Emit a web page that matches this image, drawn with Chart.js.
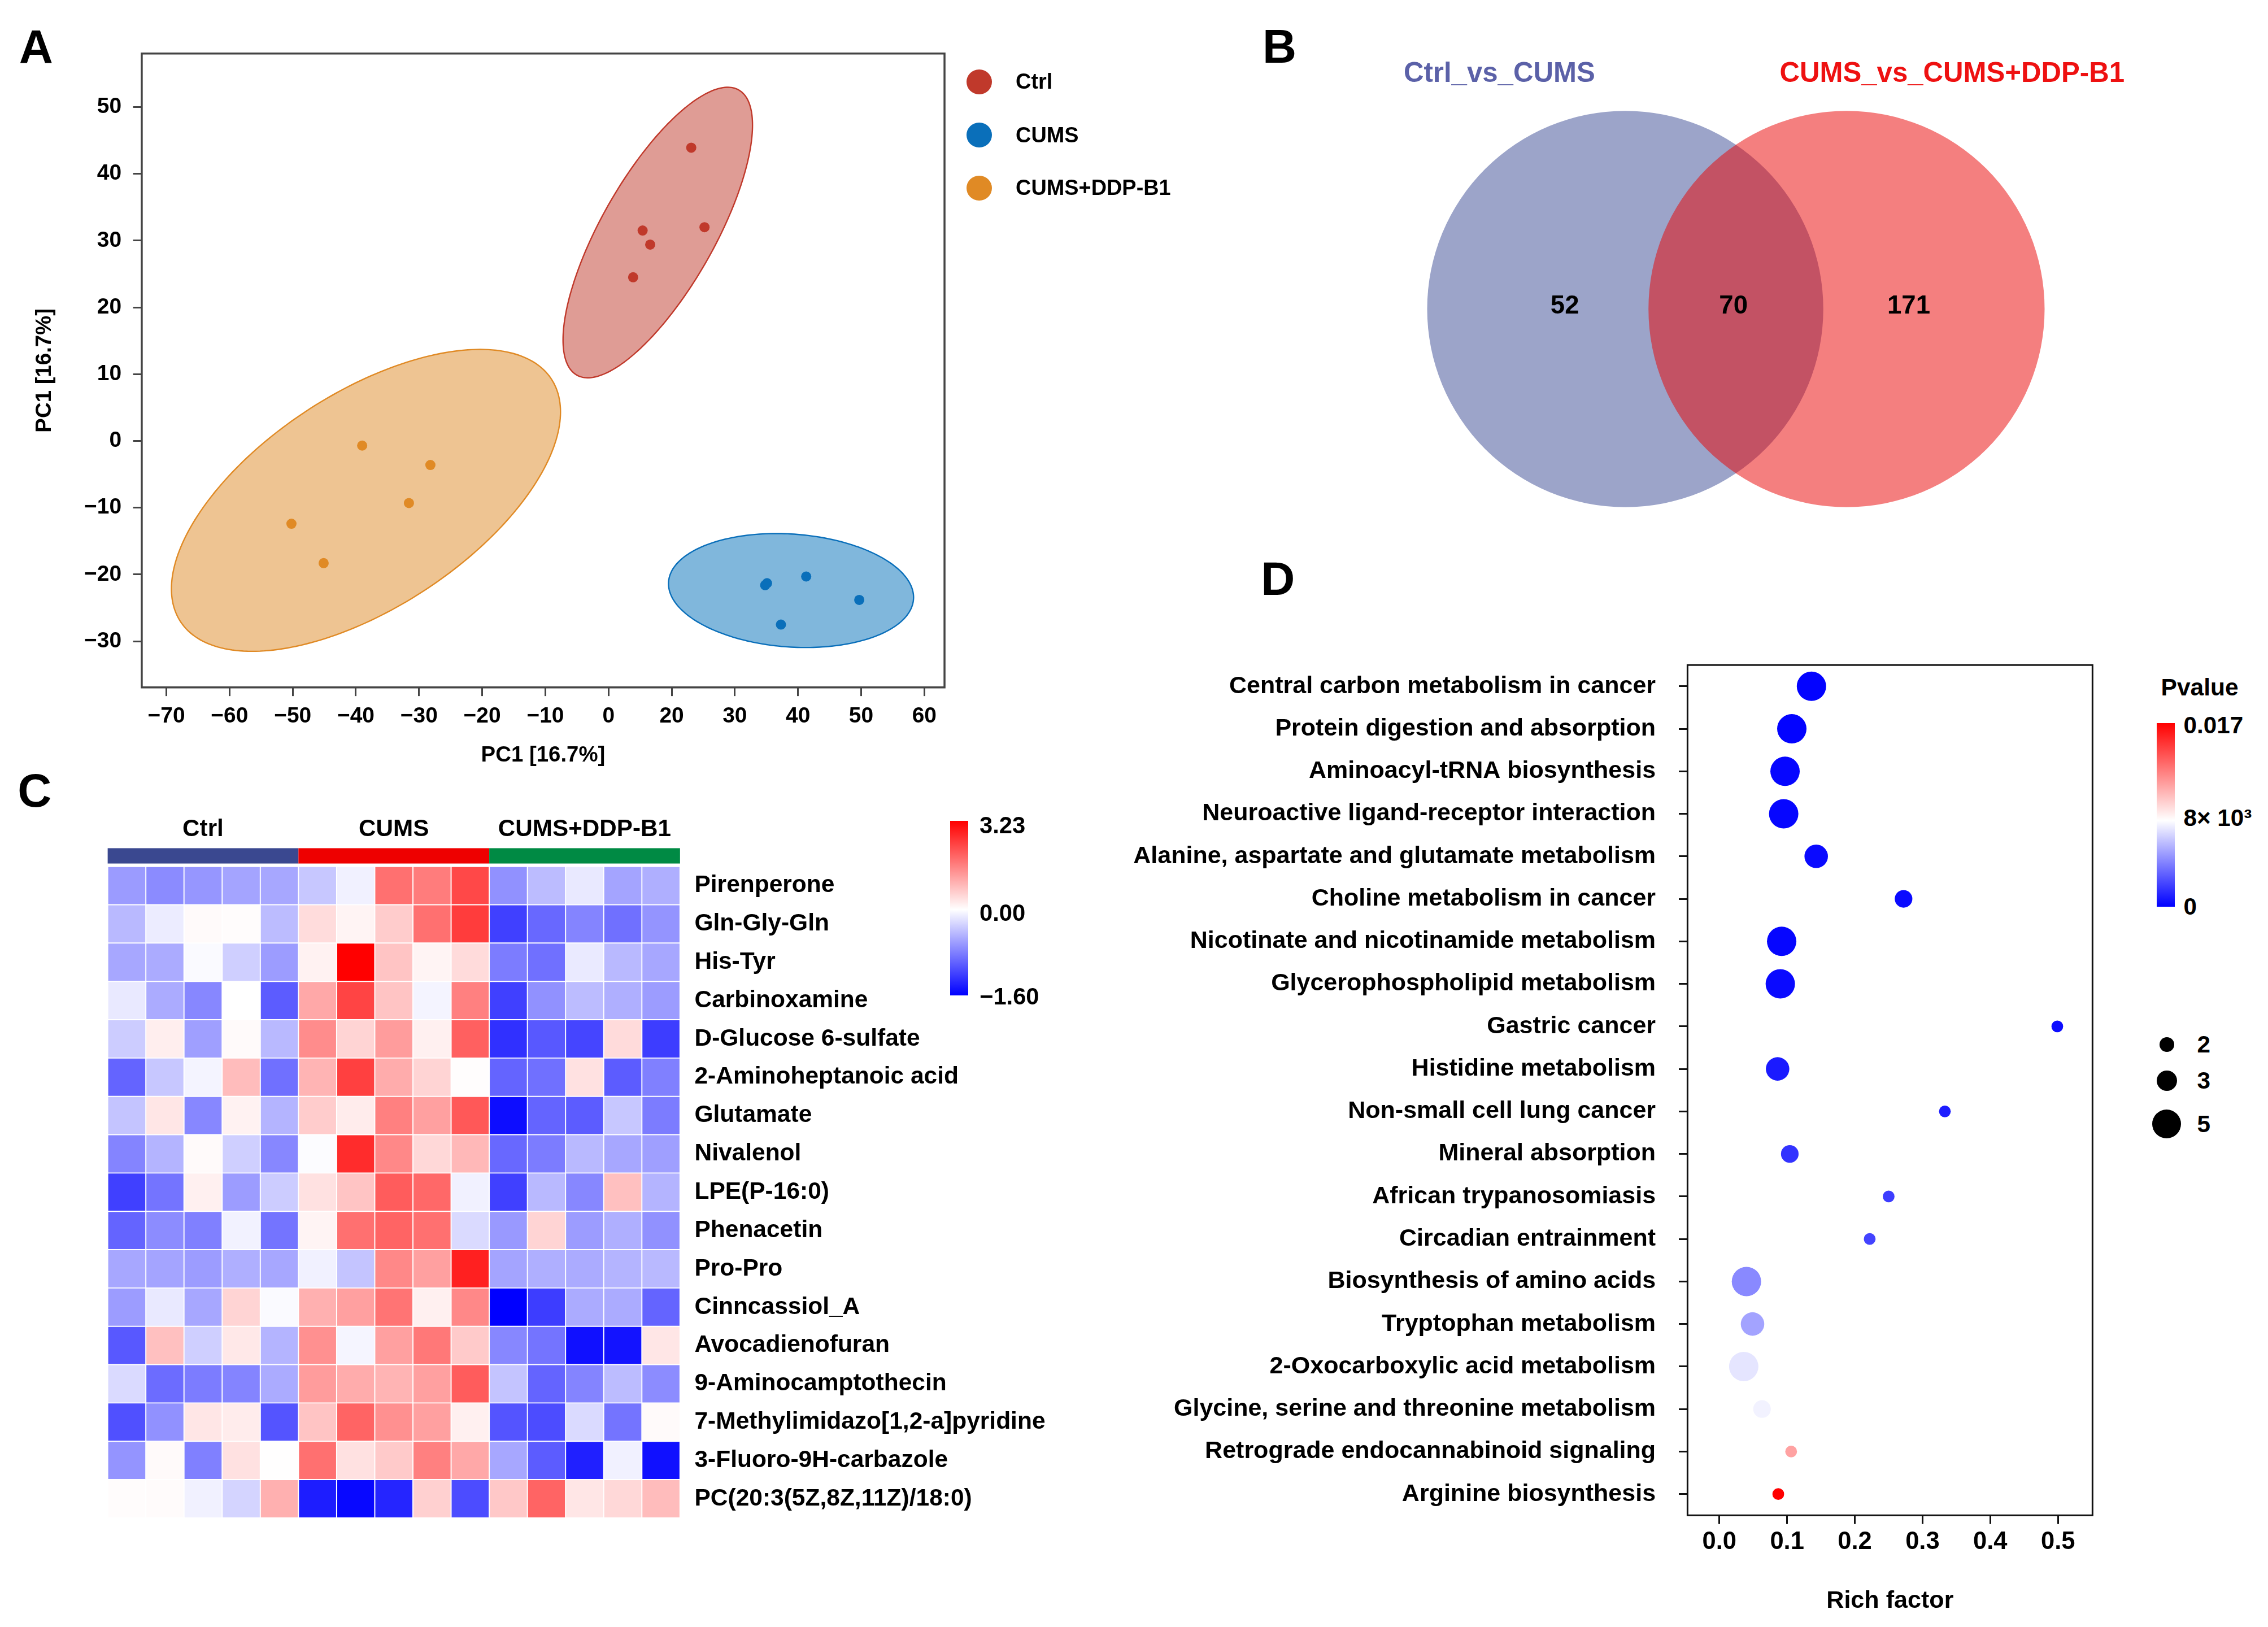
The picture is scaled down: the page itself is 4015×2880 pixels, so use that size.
<!DOCTYPE html>
<html>
<head>
<meta charset="utf-8">
<script src="https://cdn.jsdelivr.net/npm/chart.js@4.4.1/dist/chart.umd.min.js"></script>
<style>
  html, body { margin: 0; padding: 0; background: #fff; }
  #page { position: relative; width: 4015px; height: 2880px; overflow: hidden; background: #fff;
          font-family: "Liberation Sans", Arial, sans-serif; font-weight: bold; color: #000; }
  .txt { position: absolute; white-space: nowrap; line-height: 1; }
  .dot { position: absolute; border-radius: 50%; }
</style>
</head>
<body>
<div id="page"></div>
<script>
//-----------------------------------------------------------------------------
// Data
//-----------------------------------------------------------------------------

// A: PCA scores
var pcaGroups = ['Ctrl', 'CUMS', 'CUMS+DDP-B1'];
var ctrlX = [13.1, 5.4, 6.6, 15.2, 3.9];
var ctrlY = [43.9, 31.5, 29.4, 32.0, 24.5];
var cumsX = [24.8, 25.1, 31.3, 39.7, 27.3];
var cumsY = [-21.6, -21.3, -20.3, -23.8, -27.5];
var ddpX = [-39.0, -28.2, -31.6, -50.2, -45.1];
var ddpY = [-0.7, -3.6, -9.3, -12.4, -18.3];
// confidence ellipses: centre, half extents along x / y, correlation
var ellCX = [7.8, 28.9, -38.4];
var ellCY = [31.2, -22.4, -8.9];
var ellHX = [15.0, 19.4, 30.8];
var ellHY = [21.75, 8.53, 22.6];
var ellRho = [0.739, -0.12, 0.586];
// the x tick labels as printed on the figure (10 is skipped)
var pcaXTickLabels = ['\u221270', '\u221260', '\u221250', '\u221240', '\u221230', '\u221220', '\u221210', '0', '20', '30', '40', '50', '60'];

// B: Venn
var vennSets = ['Ctrl_vs_CUMS', 'CUMS_vs_CUMS+DDP-B1'];
var vennCounts = [52, 70, 171]; // only A, both, only B

// C: heatmap
var heatGroups = ['Ctrl', 'CUMS', 'CUMS+DDP-B1'];
var metabolites = ['Pirenperone', 'Gln-Gly-Gln', 'His-Tyr', 'Carbinoxamine', 'D-Glucose 6-sulfate',
  '2-Aminoheptanoic acid', 'Glutamate', 'Nivalenol', 'LPE(P-16:0)', 'Phenacetin', 'Pro-Pro',
  'Cinncassiol_A', 'Avocadienofuran', '9-Aminocamptothecin', '7-Methylimidazo[1,2-a]pyridine',
  '3-Fluoro-9H-carbazole', 'PC(20:3(5Z,8Z,11Z)/18:0)'];
var heatValues = [
  [-0.63, -0.73, -0.66, -0.57, -0.55, -0.35, -0.09, 1.81, 1.66, 2.32, -0.69, -0.42, -0.14, -0.57, -0.50],
  [-0.44, -0.12, 0.06, 0.04, -0.42, 0.44, 0.14, 0.65, 1.81, 2.47, -1.20, -0.95, -0.77, -0.90, -0.67],
  [-0.55, -0.53, -0.03, -0.30, -0.62, 0.16, 3.23, 0.75, 0.14, 0.46, -0.82, -0.90, -0.13, -0.44, -0.55],
  [-0.14, -0.53, -0.75, 0.00, -1.02, 1.10, 2.37, 0.75, -0.07, 1.61, -1.20, -0.69, -0.42, -0.50, -0.62],
  [-0.32, 0.22, -0.60, 0.06, -0.44, 1.46, 0.54, 1.25, 0.19, 2.01, -1.30, -1.05, -1.17, 0.46, -1.22],
  [-0.97, -0.35, -0.07, 0.85, -0.90, 0.95, 2.42, 1.05, 0.54, 0.02, -0.97, -0.90, 0.38, -1.02, -0.80],
  [-0.37, 0.32, -0.75, 0.16, -0.47, 0.65, 0.24, 1.61, 1.20, 2.11, -1.52, -0.97, -1.02, -0.35, -0.82],
  [-0.77, -0.47, 0.06, -0.30, -0.75, -0.02, 2.67, 1.51, 0.49, 0.90, -0.95, -0.82, -0.44, -0.55, -0.60],
  [-1.20, -0.87, 0.19, -0.62, -0.32, 0.38, 0.75, 2.06, 1.91, -0.09, -1.20, -0.44, -0.75, 0.80, -0.47],
  [-0.97, -0.72, -0.80, -0.08, -0.87, 0.14, 1.81, 1.96, 1.81, -0.23, -0.64, 0.54, -0.62, -0.50, -0.69],
  [-0.55, -0.57, -0.62, -0.50, -0.55, -0.09, -0.37, 1.51, 1.20, 2.82, -0.57, -0.50, -0.53, -0.47, -0.44],
  [-0.62, -0.14, -0.55, 0.54, -0.03, 1.00, 1.20, 1.76, 0.19, 1.51, -1.60, -1.22, -0.53, -0.53, -0.97],
  [-1.05, 0.80, -0.30, 0.29, -0.47, 1.41, -0.06, 1.20, 1.71, 0.67, -0.75, -0.87, -1.50, -1.48, 0.32],
  [-0.23, -0.92, -0.82, -0.77, -0.53, 1.25, 1.05, 0.95, 1.20, 2.06, -0.37, -0.97, -0.77, -0.42, -0.72],
  [-1.10, -0.69, 0.32, 0.24, -1.07, 0.75, 1.96, 1.41, 1.20, 0.19, -1.07, -1.12, -0.23, -0.87, 0.06],
  [-0.67, 0.06, -0.80, 0.38, 0.01, 1.81, 0.38, 0.67, 1.61, 1.10, -0.55, -1.02, -1.40, -0.09, -1.50],
  [0.04, 0.05, -0.09, -0.27, 1.00, -1.42, -1.55, -1.37, 0.59, -1.12, 0.70, 1.96, 0.32, 0.49, 0.85]
];
var heatMin = -1.60, heatMax = 3.23;
var heatTickLabels = ['3.23', '0.00', '\u22121.60'];

// D: KEGG enrichment
var pathways = ['Central carbon metabolism in cancer', 'Protein digestion and absorption',
  'Aminoacyl-tRNA biosynthesis', 'Neuroactive ligand-receptor interaction',
  'Alanine, aspartate and glutamate metabolism', 'Choline metabolism in cancer',
  'Nicotinate and nicotinamide metabolism', 'Glycerophospholipid metabolism', 'Gastric cancer',
  'Histidine metabolism', 'Non-small cell lung cancer', 'Mineral absorption',
  'African trypanosomiasis', 'Circadian entrainment', 'Biosynthesis of amino acids',
  'Tryptophan metabolism', '2-Oxocarboxylic acid metabolism', 'Glycine, serine and threonine metabolism',
  'Retrograde endocannabinoid signaling', 'Arginine biosynthesis'];
var richFactor = [0.136, 0.107, 0.097, 0.095, 0.143, 0.272, 0.092, 0.090, 0.499, 0.086,
  0.333, 0.104, 0.250, 0.222, 0.040, 0.049, 0.036, 0.063, 0.106, 0.087];
var hitCount = [5, 5, 5, 5, 4, 3, 5, 5, 2, 4, 2, 3, 2, 2, 5, 4, 5, 3, 2, 2];
var pValue = [0.0001, 0.0001, 0.0002, 0.0002, 0.0003, 0.0003, 0.0002, 0.0003, 0.0004, 0.0008,
  0.0009, 0.0016, 0.0019, 0.0021, 0.0043, 0.0051, 0.0072, 0.0076, 0.0113, 0.0170];
var pMid = 0.008, pMax = 0.017;
var pTickLabels = ['0.017', '8\u00d7 10\u00b3', '0'];
var sizeLegend = [2, 3, 5];

//-----------------------------------------------------------------------------
// Layout helpers (positions are given in units of the 1568 px wide figure)
//-----------------------------------------------------------------------------

var S = 4015 / 1568;
var px = function(v) { return v * S; };
var page = document.getElementById('page');
var FONT = '"Liberation Sans", Arial, sans-serif';

Chart.defaults.font.family = FONT;
Chart.defaults.font.weight = 'bold';
Chart.defaults.color = '#000';
Chart.defaults.animation = false;

function addCanvas(x, y, w, h) {
  var c = document.createElement('canvas');
  c.width = Math.round(px(w));
  c.height = Math.round(px(h));
  c.style.cssText = 'position:absolute;left:' + px(x) + 'px;top:' + px(y) + 'px;';
  page.appendChild(c);
  return c;
}

// yc is the vertical centre of the capitals
function addText(str, x, yc, size, align, color) {
  var d = document.createElement('div');
  d.className = 'txt';
  d.textContent = str;
  d.style.fontSize = px(size) + 'px';
  d.style.left = px(x) + 'px';
  d.style.top = (px(yc) - 0.4885 * px(size)) + 'px';
  if (color) d.style.color = color;
  if (align === 'center') d.style.transform = 'translateX(-50%)';
  if (align === 'right') d.style.transform = 'translateX(-100%)';
  page.appendChild(d);
  return d;
}

function addDot(cx, cy, r, color) {
  var d = document.createElement('div');
  d.className = 'dot';
  d.style.cssText = 'left:' + px(cx - r) + 'px;top:' + px(cy - r) + 'px;width:' + px(2 * r) +
    'px;height:' + px(2 * r) + 'px;background:' + color + ';';
  page.appendChild(d);
}

function addColorbar(x, y, w, h, gradient) {
  var d = document.createElement('div');
  d.style.cssText = 'position:absolute;left:' + px(x) + 'px;top:' + px(y) + 'px;width:' + px(w) +
    'px;height:' + px(h) + 'px;background:linear-gradient(to bottom,' + gradient + ');';
  page.appendChild(d);
}

function minus(v) { return v < 0 ? '\u2212' + (-v) : String(v); }

function heatColor(v) {
  var t;
  if (v >= 0) {
    t = 1 - Math.min(v / heatMax, 1);
    return 'rgb(255,' + Math.round(255 * t) + ',' + Math.round(255 * t) + ')';
  }
  t = 1 - Math.min(v / heatMin, 1);
  return 'rgb(' + Math.round(255 * t) + ',' + Math.round(255 * t) + ',255)';
}

function pColor(p) {
  var t;
  if (p <= pMid) {
    t = p / pMid;
    return 'rgb(' + Math.round(255 * t) + ',' + Math.round(255 * t) + ',255)';
  }
  t = 1 - Math.min((p - pMid) / (pMax - pMid), 1);
  return 'rgb(255,' + Math.round(255 * t) + ',' + Math.round(255 * t) + ')';
}

// frame around the plotting area
var framePlugin = {
  id: 'frame',
  afterDraw: function(chart, args, opts) {
    var a = chart.chartArea, ctx = chart.ctx;
    ctx.save();
    ctx.strokeStyle = opts.color || '#333';
    ctx.lineWidth = opts.width || 3;
    ctx.strokeRect(a.left, a.top, a.right - a.left, a.bottom - a.top);
    ctx.restore();
  }
};

//-----------------------------------------------------------------------------
// Panel letters
//-----------------------------------------------------------------------------

addText('A', 13.2, 32.2, 32.5);
addText('B', 872.8, 31.8, 32.5);
addText('C', 12.2, 546.3, 32.5);
addText('D', 871.8, 399.8, 32.5);

//-----------------------------------------------------------------------------
// A: PCA score plot
//-----------------------------------------------------------------------------

var pcaColors = ['#c0392b', '#0a6fba', '#e08a25'];
var pcaFills = ['rgba(192,57,43,0.5)', 'rgba(2,112,186,0.5)', 'rgba(222,138,37,0.5)'];
var pcaXs = [ctrlX, cumsX, ddpX], pcaYs = [ctrlY, cumsY, ddpY];

var ellipsePlugin = {
  id: 'ellipses',
  beforeDatasetsDraw: function(chart) {
    var ctx = chart.ctx, xs = chart.scales.x, ys = chart.scales.y;
    ctx.save();
    for (var i = 0; i < pcaGroups.length; i++) {
      var q = Math.sqrt(1 - ellRho[i] * ellRho[i]);
      ctx.beginPath();
      for (var k = 0; k <= 240; k++) {
        var t = k / 240 * Math.PI * 2;
        var dx = ellHX[i] * Math.cos(t);
        var dy = ellHY[i] * (ellRho[i] * Math.cos(t) + q * Math.sin(t));
        var X = xs.getPixelForValue(ellCX[i] + dx), Y = ys.getPixelForValue(ellCY[i] + dy);
        if (k) ctx.lineTo(X, Y); else ctx.moveTo(X, Y);
      }
      ctx.closePath();
      ctx.fillStyle = pcaFills[i];
      ctx.fill();
      ctx.strokeStyle = pcaColors[i];
      ctx.lineWidth = 2.4;
      ctx.stroke();
    }
    ctx.restore();
  }
};

new Chart(addCanvas(0, 0, 685, 545), {
  type: 'scatter',
  data: {
    datasets: pcaGroups.map(function(g, i) {
      return {
        label: g,
        data: pcaXs[i].map(function(x, j) { return {x: x, y: pcaYs[i][j]}; }),
        backgroundColor: pcaColors[i],
        borderWidth: 0,
        pointRadius: 9
      };
    })
  },
  options: {
    responsive: false,
    devicePixelRatio: 1,
    layout: {padding: {left: 0, top: px(37), right: px(32), bottom: 0}},
    plugins: {legend: {display: false}, tooltip: {enabled: false}, frame: {color: '#444', width: 3.5}},
    scales: {
      x: {
        min: -73.9, max: 53.2,
        afterFit: function(s) { s.height = px(70); },
        border: {display: false},
        grid: {drawOnChartArea: false, drawTicks: true, tickLength: px(6), color: '#444', lineWidth: 3},
        ticks: {
          stepSize: 10, includeBounds: false, padding: px(4.9), maxRotation: 0,
          font: {size: px(15.2), weight: 'bold'},
          callback: function(v) { return pcaXTickLabels[Math.round((v + 70) / 10)]; }
        },
        title: {display: true, text: 'PC1 [16.7%]', font: {size: px(15), weight: 'bold'}, padding: {top: 0, bottom: px(14)}}
      },
      y: {
        min: -36.9, max: 58.0,
        afterFit: function(s) { s.width = px(98); },
        border: {display: false},
        grid: {drawOnChartArea: false, drawTicks: true, tickLength: px(6), color: '#444', lineWidth: 3},
        ticks: {
          stepSize: 10, includeBounds: false, padding: px(8),
          font: {size: px(15.2), weight: 'bold'},
          callback: function(v) { return minus(v); }
        },
        title: {display: true, text: 'PC1 [16.7%]', font: {size: px(15), weight: 'bold'}, padding: {top: px(22), bottom: 0}}
      }
    }
  },
  plugins: [ellipsePlugin, framePlugin]
});

// legend of A
[56.6, 93.4, 130].forEach(function(y, i) {
  addDot(676.9, y, 8.7, pcaColors[i]);
  addText(pcaGroups[i], 702.2, y, 14.8);
});

//-----------------------------------------------------------------------------
// B: Venn diagram
//-----------------------------------------------------------------------------

var vennRadius = 0.895;      // in x units (centre distance = 1)
var vennLabelX = [-0.273, 0.489, 1.281];

var vennLabels = {
  id: 'vennLabels',
  afterDatasetsDraw: function(chart) {
    var ctx = chart.ctx, xs = chart.scales.x, ys = chart.scales.y;
    ctx.save();
    ctx.font = 'bold ' + px(17.8) + 'px ' + FONT;
    ctx.fillStyle = '#000';
    ctx.textAlign = 'center';
    ctx.textBaseline = 'middle';
    vennCounts.forEach(function(n, i) {
      ctx.fillText(String(n), xs.getPixelForValue(vennLabelX[i]), ys.getPixelForValue(0.011));
    });
    ctx.restore();
  }
};

function vennR(ctx) {
  var xs = ctx.chart.scales.x;
  return xs.getPixelForValue(vennRadius) - xs.getPixelForValue(0);
}

new Chart(addCanvas(940.2, 60, 520.2, 307), {
  type: 'scatter',
  data: {
    datasets: [
      // lower order is drawn last, so the translucent set lies over the opaque one
      {label: vennSets[0], data: [{x: 0, y: 0}], backgroundColor: '#9ca4c9', borderWidth: 0, pointRadius: vennR, order: 2},
      {label: vennSets[1], data: [{x: 1, y: 0}], backgroundColor: 'rgba(233,0,0,0.5)', borderWidth: 0, pointRadius: vennR, order: 1}
    ]
  },
  options: {
    responsive: false,
    devicePixelRatio: 1,
    layout: {padding: 0},
    plugins: {legend: {display: false}, tooltip: {enabled: false}},
    scales: {
      x: {display: false, min: -1.2, max: 2.2},
      y: {display: false, min: -1, max: 1}
    },
    elements: {point: {hoverRadius: vennR}}
  },
  plugins: [vennLabels]
});

addText(vennSets[0], 1036.6, 49.7, 19.2, 'center', '#5b61a8');
addText(vennSets[1], 1349.6, 49.7, 19.2, 'center', '#ee1111');

//-----------------------------------------------------------------------------
// C: heatmap
//-----------------------------------------------------------------------------

var groupColors = ['#3a4890', '#ee0000', '#008a44'];
var nSamples = heatValues[0].length;
var groupSize = nSamples / heatGroups.length;

var groupBar = {
  id: 'groupBar',
  afterDraw: function(chart) {
    var ctx = chart.ctx, xs = chart.scales.x, top = chart.chartArea.top;
    ctx.save();
    ctx.font = 'bold ' + px(16.5) + 'px ' + FONT;
    ctx.textAlign = 'center';
    ctx.textBaseline = 'alphabetic';
    heatGroups.forEach(function(g, i) {
      var x0 = xs.getPixelForValue(i * groupSize), x1 = xs.getPixelForValue((i + 1) * groupSize);
      ctx.fillStyle = groupColors[i];
      ctx.fillRect(x0, top - px(12.6), x1 - x0, px(10.6));
      ctx.fillStyle = '#000';
      ctx.fillText(g, (x0 + x1) / 2, top - px(21.1));
    });
    ctx.restore();
  }
};

var heatDatasets = [];
for (var j = 0; j < nSamples; j++) {
  (function(col) {
    heatDatasets.push({
      label: 'S' + (col + 1),
      data: metabolites.map(function() { return [col, col + 1]; }),
      backgroundColor: function(ctx) { return heatColor(heatValues[ctx.dataIndex][col]); },
      borderColor: '#ffffff',
      borderWidth: 1.3,
      borderSkipped: false,
      grouped: false,
      barPercentage: 1,
      categoryPercentage: 1
    });
  })(j);
}

new Chart(addCanvas(60, 555, 685, 525), {
  type: 'bar',
  data: {labels: metabolites, datasets: heatDatasets},
  options: {
    indexAxis: 'y',
    responsive: false,
    devicePixelRatio: 1,
    layout: {padding: {left: px(14.3), top: px(44), right: 0, bottom: px(30.5)}},
    plugins: {legend: {display: false}, tooltip: {enabled: false}},
    scales: {
      x: {type: 'linear', display: false, min: 0, max: nSamples},
      y: {
        position: 'right',
        afterFit: function(s) { s.width = px(275); },
        border: {display: false},
        grid: {display: false, drawTicks: false},
        ticks: {autoSkip: false, padding: px(10), font: {size: px(16.6), weight: 'bold'}}
      }
    }
  },
  plugins: [groupBar]
});

addColorbar(656.9, 567.6, 12.3, 120.7, '#ff0000 0%, #ffffff 50.8%, #0000ff 100%');
addText(heatTickLabels[0], 677.2, 570.3, 16.3);
addText(heatTickLabels[1], 677.2, 630.9, 16.3);
addText(heatTickLabels[2], 677.2, 688.6, 16.3);

//-----------------------------------------------------------------------------
// D: enrichment bubble plot
//-----------------------------------------------------------------------------

function bubbleR(n) { return px(2.03 * n); }

new Chart(addCanvas(760, 420, 710, 705), {
  type: 'bubble',
  data: {
    labels: pathways,
    datasets: [{
      label: 'Pathways',
      data: pathways.map(function(p, i) { return {x: richFactor[i], y: p}; }),
      backgroundColor: function(ctx) { return pColor(pValue[ctx.dataIndex]); },
      borderWidth: 0,
      radius: function(ctx) { return bubbleR(hitCount[ctx.dataIndex]); },
      hoverRadius: 0
    }]
  },
  options: {
    responsive: false,
    devicePixelRatio: 1,
    layout: {padding: {left: 0, top: px(39.9), right: px(23.3), bottom: 0}},
    plugins: {legend: {display: false}, tooltip: {enabled: false}, frame: {color: '#111', width: 3}},
    scales: {
      x: {
        type: 'linear', min: -0.047, max: 0.551,
        afterFit: function(s) { s.height = px(77.2); },
        border: {display: false},
        grid: {drawOnChartArea: false, drawTicks: true, tickLength: px(6), color: '#111', lineWidth: 3},
        ticks: {
          stepSize: 0.1, includeBounds: false, padding: px(2.5), maxRotation: 0,
          font: {size: px(17), weight: 'bold'},
          callback: function(v) { return v.toFixed(1); }
        },
        title: {display: true, text: 'Rich factor', font: {size: px(16.85), weight: 'bold'}, padding: {top: 0, bottom: px(7.7)}}
      },
      y: {
        type: 'category', labels: pathways, offset: true,
        afterFit: function(s) { s.width = px(406.7); },
        border: {display: false},
        grid: {offset: false, drawOnChartArea: false, drawTicks: true, tickLength: px(6), color: '#111', lineWidth: 3},
        ticks: {autoSkip: false, padding: px(16), font: {size: px(16.8), weight: 'bold'}}
      }
    }
  },
  plugins: [framePlugin]
});

addText('Pvalue', 1520.8, 475.3, 16.6, 'center');
addColorbar(1491, 500, 12.5, 127, '#ff0000 0%, #ffffff 53%, #0000ff 100%');
addText(pTickLabels[0], 1509.6, 501.4, 16.5);
addText(pTickLabels[1], 1509.6, 565.3, 16.5);
addText(pTickLabels[2], 1509.6, 626.8, 16.5);

var sizeLegendY = [722, 747, 777];
var sizeLegendR = [5.0, 7.0, 10.0];
sizeLegend.forEach(function(n, i) {
  addDot(1498, sizeLegendY[i], sizeLegendR[i], '#000');
  addText(String(n), 1519, sizeLegendY[i], 16.5);
});
</script>
</body>
</html>
